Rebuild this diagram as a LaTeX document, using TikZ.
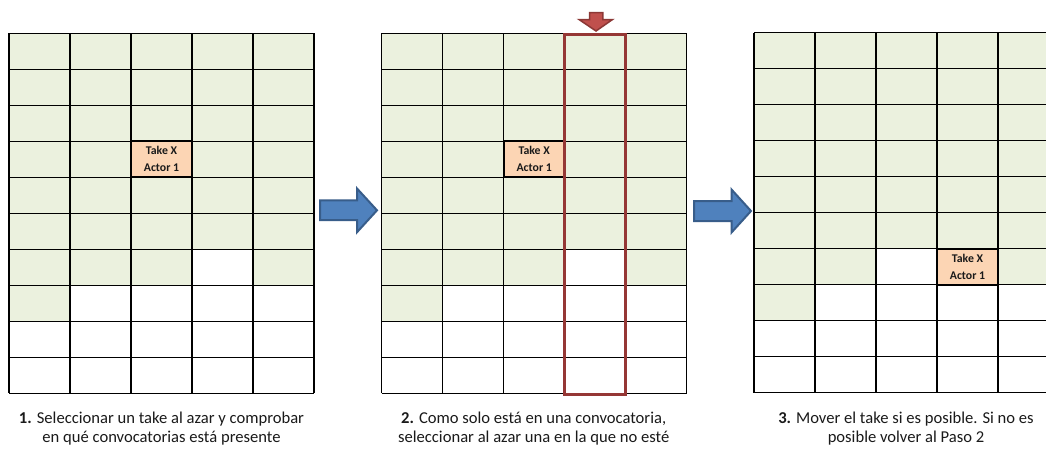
\documentclass[tikz,border=0pt]{standalone}
\usepackage{fontspec}
\setmainfont{Carlito}

\definecolor{cellgreen}{HTML}{EBF1DE}
\definecolor{cellorange}{HTML}{FCD5B4}
\definecolor{arrowblue}{HTML}{4F81BD}
\definecolor{arrowblueedge}{HTML}{385D8A}
\definecolor{markred}{HTML}{953735}
\definecolor{arrowred}{HTML}{C0504D}
\definecolor{arrowrededge}{HTML}{8C3836}
\definecolor{ink}{HTML}{1A1A1A}

\tikzset{
  gridline/.style={black, line width=1.3pt},
  takecell/.style={draw=black, line width=2pt, fill=cellorange,
    minimum width=61pt, minimum height=36pt, inner sep=0pt, align=center,
    font=\bfseries\fontsize{11.8}{17}\selectfont, text=ink},
  blockarrow/.style={fill=arrowblue, draw=arrowblueedge, line width=2pt, line join=miter},
  downarrow/.style={fill=arrowred, draw=arrowrededge, line width=1.5pt, line join=miter},
  columnmark/.style={draw=markred, line width=3pt},
  caption/.style={anchor=base, inner sep=0pt, font=\fontsize{16.6}{19}\selectfont, text=ink},
}

% 5 x 10 grid of calls; #3 = column left blank in the seventh row
\newcommand{\callgrid}[3]{%
  \begin{scope}[shift={(#1,#2)}]
    \fill[cellgreen] (0,0) rectangle (305,252);
    \fill[white] ({(#3-1)*61},216) rectangle ++(61,36);
    \fill[cellgreen] (0,252) rectangle (61,288);
    \foreach \c in {0,...,5} \draw[gridline] (\c*61,0) -- (\c*61,360);
    \foreach \r in {0,...,10} \draw[gridline] (0,\r*36) -- (305,\r*36);
  \end{scope}}

\begin{document}
\begin{tikzpicture}[x=1pt,y=-1pt]
  \clip (0,0) rectangle (1046,448);
  \fill[white] (0,0) rectangle (1046,448);

  % the three grids
  \callgrid{9}{33.3}{4}
  \callgrid{381.7}{33.3}{4}
  \callgrid{754}{32.7}{3}

  % the take in each grid
  \node[takecell] (take1) at (161.5,159.3) {Take X\\Actor 1};
  \node[takecell] (take2) at (534.2,159.3) {Take X\\Actor 1};
  \node[takecell] (take3) at (967.5,266.7) {Take X\\Actor 1};

  % selected column in step 2
  \draw[columnmark] (564.5,34) rectangle (625,394.5);
  \draw[downarrow] (589.5,12.5) -- (602.8,12.5) -- (602.8,19.5) -- (612.5,19.5)
    -- (596,31) -- (579,19.5) -- (589.5,19.5) -- cycle;

  % step arrows
  \draw[blockarrow] (320,200.3) -- (357,200.3) -- (357,188.5) -- (377,210.3)
    -- (357,232.2) -- (357,220) -- (320,220) -- cycle;
  \draw[blockarrow] (694,201) -- (731.5,201) -- (731.5,189.5) -- (751,211)
    -- (731.5,232.5) -- (731.5,221) -- (694,221) -- cycle;

  % captions
  \node[caption] (cap1a) at (161.5,423) {\textbf{1.} Seleccionar un take al azar y comprobar};
  \node[caption] (cap1b) at (161.5,442) {en qué convocatorias está presente};
  \node[caption] (cap2a) at (533.7,423) {\textbf{2.} Como solo está en una convocatoria,};
  \node[caption] (cap2b) at (533.7,442) {seleccionar al azar una en la que no esté};
  \node[caption] (cap3a) at (906,423) {\textbf{3.} Mover el take si es posible. Si no es};
  \node[caption] (cap3b) at (906,442) {posible volver al Paso 2};
\end{tikzpicture}
\end{document}
